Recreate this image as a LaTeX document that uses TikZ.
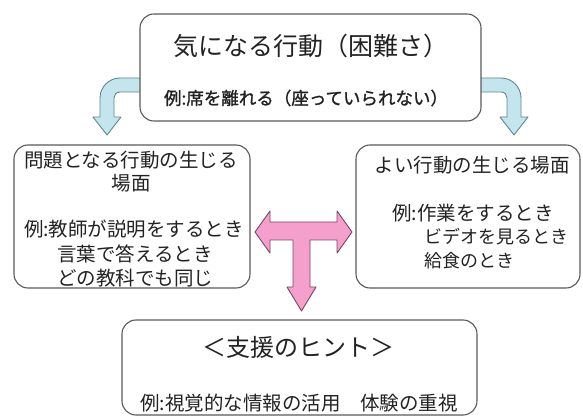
\documentclass[tikz,border=0pt]{standalone}
\usepackage{fontspec}
\setmainfont{Noto Sans CJK JP}
\newfontfamily\boldishfont[FakeBold=1.2]{Noto Sans CJK JP}
\definecolor{boxgray}{HTML}{5A5A5A}
\definecolor{txtc}{HTML}{222222}
\definecolor{bluefill}{HTML}{C4E5EE}
\definecolor{blueline}{HTML}{5E8790}
\definecolor{pinkfill}{HTML}{F5A0CC}
\definecolor{pinkline}{HTML}{7A4462}
\begin{document}
\begin{tikzpicture}[x=1pt,y=-1pt,
  box/.style={draw=boxgray, line width=1.1pt, rounded corners=14pt, fill=white, inner sep=0pt},
  txt/.style={text=txtc, inner sep=0pt, font=\fontsize{19.5}{22}\selectfont},
  bigtxt/.style={text=txtc, inner sep=0pt, font=\fontsize{25}{28}\selectfont},
  bluearrow/.style={draw=blueline, line width=0.9pt, fill=bluefill, line join=round},
  pinkarrow/.style={draw=pinkline, line width=0.9pt, fill=pinkfill, line join=round}]
\useasboundingbox (0,0) rectangle (583,419);
\fill[white] (0,0) rectangle (583,419);

% blue bent arrows
\draw[bluearrow] (145,78) -- (120,78) .. controls (109,78) and (100,87) .. (100,98) -- (100,117) -- (93,117) -- (107,135) -- (121,117) -- (114,117) -- (114,98) .. controls (114,95) and (116,92) .. (120,92) -- (145,92) -- cycle;
\draw[bluearrow] (476,78) -- (501,78) .. controls (512,78) and (521,87) .. (521,98) -- (521,117) -- (528,117) -- (514,135) -- (500,117) -- (507,117) -- (507,98) .. controls (507,95) and (505,92) .. (501,92) -- (476,92) -- cycle;

% boxes
\node[box, minimum width=341pt, minimum height=107pt] (top) at (310.5,67.5) {};
\node[box, minimum width=236pt, minimum height=143pt] (left) at (132,216.5) {};
\node[box, minimum width=224pt, minimum height=143pt] (right) at (468,216.5) {};
\node[box, minimum width=355pt, minimum height=95pt] (bottom) at (299.5,367.5) {};

% top texts
\node[bigtxt] (toptitle) at (311,46) {気になる行動（困難さ）};
\node[txt, font=\boldishfont\fontsize{17.5}{20}\selectfont] (topex) at (306,98) {例:席を離れる（座っていられない）};

% left texts
\node[txt] (l1) at (131,160) {問題となる行動の生じる};
\node[txt] (l2) at (131,183) {場面};
\node[txt] (l3) at (134,229) {例:教師が説明をするとき};
\node[txt] (l4) at (135,254) {言葉で答えるとき};
\node[txt] (l5) at (135,278) {どの教科でも同じ};

% right texts
\node[txt] (r1) at (472,165) {よい行動の生じる場面};
\node[txt, anchor=west] (r2) at (392,213) {例:作業をするとき};
\node[txt, anchor=west, font=\fontsize{18}{20}\selectfont] (r3) at (424,237) {ビデオを見るとき};
\node[txt, anchor=west, font=\fontsize{18}{20}\selectfont] (r4) at (424,261) {給食のとき};

% bottom texts
\node[txt, font=\fontsize{24}{27}\selectfont] (b1) at (298,347) {＜支援のヒント＞};
\node[txt] (b2) at (299,403) {例:視覚的な情報の活用　体験の重視};

% pink T arrow
\draw[pinkarrow] (255,232) -- (270,211) -- (270,222) -- (337,222) -- (337,211) -- (352,232) -- (337,253) -- (337,240) -- (310,240) -- (310,287) -- (316,287) -- (301.5,311) -- (287,287) -- (293,287) -- (293,240) -- (270,240) -- (270,253) -- cycle;
\end{tikzpicture}
\end{document}
